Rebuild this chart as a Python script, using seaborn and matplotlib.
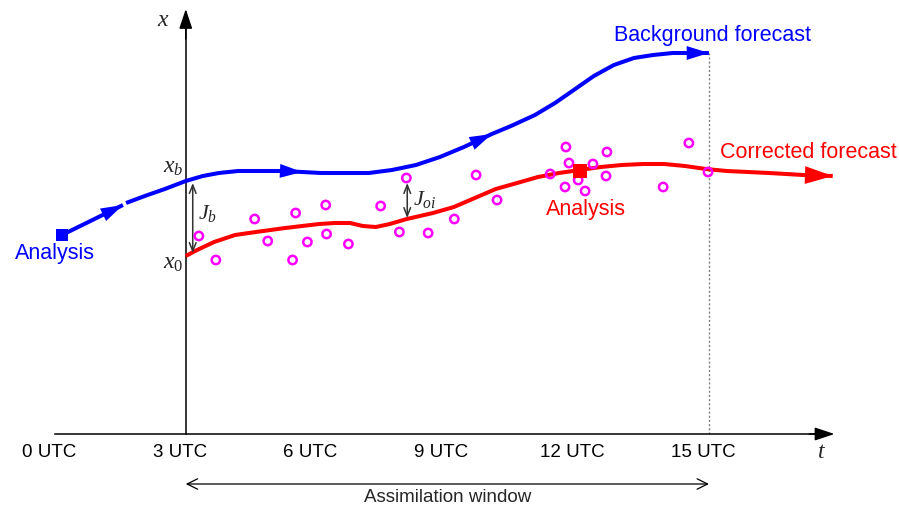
import numpy as np
import pandas as pd
import seaborn as sns
import matplotlib.pyplot as plt
import matplotlib.transforms as mtransforms

sns.set_style("white")
plt.rcParams["font.family"] = ["Liberation Sans", "DejaVu Sans"]
plt.rcParams["mathtext.fontset"] = "custom"
plt.rcParams["mathtext.it"] = "Liberation Serif:italic"
plt.rcParams["mathtext.rm"] = "Liberation Serif"

# ---- data (time in hours UTC, model state in arbitrary units) ----
# previous analysis and the first leg of the background run
prev_analysis_t = [0.16]
prev_analysis_v = [199]
bg_lead_t = [0.16, 1.56]
bg_lead_v = [199, 229]

# background forecast through the assimilation window
bg_t = [1.63, 2.06, 2.52, 3.00, 3.39, 3.76, 4.20, 4.66, 5.21, 5.67, 6.10, 6.65, 7.20, 7.73,
        8.28, 8.83, 9.38, 10.02, 10.46, 11.01, 11.47, 11.90, 12.36, 12.82, 13.28, 13.72,
        14.17, 15.00]
bg_v = [231, 238, 245, 253, 258, 261, 263, 263, 263, 262, 261, 261, 261, 264,
        269, 277, 287, 300, 308, 319, 331, 344, 358, 369, 376, 379,
        381, 381]

# corrected (analysed) trajectory and forecast
an_t = [3.00, 3.26, 3.65, 4.13, 4.61, 5.28, 6.06, 6.42, 6.77, 7.06, 7.36, 7.68, 8.07, 8.67,
        9.15, 9.63, 10.11, 10.60, 11.08, 11.56, 12.04, 12.52, 13.00, 13.49, 13.97, 14.45,
        14.93, 15.41, 16.38, 17.16, 17.84]
an_v = [178, 184, 192, 199, 202, 206, 210, 211, 211, 208, 207, 210, 215, 221,
        227, 236, 245, 251, 257, 261, 264, 267, 269, 270, 270, 268,
        265, 263, 261, 259, 258]

# new analysis at 12 UTC
new_analysis_t = [12.04]
new_analysis_v = [263]

# observations inside the window
obs_t = [3.30, 3.69, 4.58, 4.88, 5.45, 5.52, 5.79, 6.21, 6.23, 6.73, 7.47, 7.90, 8.06, 8.56,
         9.16, 9.66, 10.14, 11.36, 11.72, 11.79, 11.70, 12.00, 12.16, 12.34, 12.66, 12.64,
         13.95, 14.54, 14.98]
obs_v = [198, 174, 215, 193, 174, 221, 192, 229, 200, 190, 228, 202, 256, 201,
         215, 259, 234, 260, 287, 271, 247, 254, 243, 270, 282, 258,
         247, 291, 262]

tick_hours = [0, 3, 6, 9, 12, 15]
tick_labels = [f"{h} UTC" for h in tick_hours]
window_start, window_end = 3, 15

BLUE = "#0000ff"
RED = "#ff0000"
MAGENTA = "#ff00ff"

bg = pd.DataFrame({
    "t": bg_lead_t + bg_t,
    "v": bg_lead_v + bg_v,
    "leg": ["lead"] * len(bg_lead_t) + ["window"] * len(bg_t),
})
an = pd.DataFrame({"t": an_t, "v": an_v})

fig = plt.figure(figsize=(8.99, 5.07), dpi=100)
ax = fig.add_axes([0, 0, 1, 1])
ax.set_xlim(-1.261, 19.36)
ax.set_ylim(-73, 434)

# window end marker
ax.vlines(window_end, 0, bg_v[-1], colors="#808080", linestyles=(0, (1.5, 1.5)), lw=1.0, zorder=1)

sns.lineplot(data=bg, x="t", y="v", units="leg", estimator=None, sort=False,
             color=BLUE, lw=2.9, solid_capstyle="butt", solid_joinstyle="round",
             ax=ax, zorder=3)
sns.lineplot(data=an, x="t", y="v", estimator=None, sort=False,
             color=RED, lw=2.9, solid_capstyle="butt", solid_joinstyle="round",
             ax=ax, zorder=3)


def head(tail, tip, color, hl=0.8, hw=0.25):
    ax.annotate("", xy=tip, xytext=tail,
                arrowprops=dict(arrowstyle=f"-|>,head_length={hl},head_width={hw}",
                                color=color, lw=0, shrinkA=0, shrinkB=0,
                                mutation_scale=20), zorder=4)


head((bg_lead_t[0], bg_lead_v[0]), (bg_lead_t[1], bg_lead_v[1]), BLUE)
for i in (9, 17, len(bg_t) - 1):
    head((bg_t[i - 1], bg_v[i - 1]), (bg_t[i], bg_v[i]), BLUE)
head((an_t[-2], an_v[-2]), (an_t[-1], an_v[-1]), RED, hl=1.0, hw=0.32)

sns.scatterplot(x=obs_t, y=obs_v, marker="o", s=36, facecolor="none",
                edgecolor=MAGENTA, linewidth=1.8, ax=ax, zorder=5)
sns.scatterplot(x=prev_analysis_t, y=prev_analysis_v, marker="s", s=80,
                color=BLUE, linewidth=0, ax=ax, zorder=5)
sns.scatterplot(x=new_analysis_t, y=new_analysis_v, marker="s", s=90,
                color=RED, linewidth=0, ax=ax, zorder=5)

# axes: time axis at zero, state axis at the window start
for side in ("top", "right"):
    ax.spines[side].set_visible(False)
ax.spines["bottom"].set_position(("data", 0))
ax.spines["bottom"].set_bounds(0, 17.5)
ax.spines["left"].set_position(("data", window_start))
ax.spines["left"].set_bounds(0, 410)
for side in ("bottom", "left"):
    ax.spines[side].set_linewidth(1.1)
    ax.spines[side].set_color("black")

ax.annotate("", xy=(17.88, 0), xytext=(17.3, 0),
            arrowprops=dict(arrowstyle="-|>,head_length=0.6,head_width=0.2", color="black",
                            lw=1.1, shrinkA=0, shrinkB=0, mutation_scale=20))
ax.annotate("", xy=(window_start, 425), xytext=(window_start, 395),
            arrowprops=dict(arrowstyle="-|>,head_length=0.6,head_width=0.2", color="black",
                            lw=1.1, shrinkA=0, shrinkB=0, mutation_scale=20))

ax.set_xticks(tick_hours)
ax.set_xticklabels(tick_labels)
ax.set_yticks([])
ax.tick_params(axis="x", direction="in", length=8, width=1.1, pad=7, labelsize=13.5,
               colors="black")
ax.xaxis.get_major_ticks()[-1].tick1line.set_visible(False)
shift = mtransforms.ScaledTranslation(-0.06, 0, fig.dpi_scale_trans)
for lbl in ax.get_xticklabels():
    lbl.set_transform(lbl.get_transform() + shift)
ax.set_xlabel("")
ax.set_ylabel("")

# cost-function distances
gap = dict(arrowstyle="<->,head_length=0.5,head_width=0.2", color="#333333",
           lw=1.1, shrinkA=0, shrinkB=0, mutation_scale=12)
ax.annotate("", xy=(3.16, 251), xytext=(3.16, 181), arrowprops=gap)
ax.annotate("", xy=(8.08, 251), xytext=(8.08, 216), arrowprops=gap)

# assimilation window span
ax.annotate("", xy=(window_start, -50), xytext=(window_end, -50),
            arrowprops=dict(arrowstyle="<->,head_length=0.5,head_width=0.25", color="black",
                            lw=0.9, shrinkA=0, shrinkB=0, mutation_scale=15))
ax.text((window_start + window_end) / 2, -64, "Assimilation window", ha="center",
        va="center", fontsize=13.5)

# labels
ax.text(0.0, 181, "Analysis", color=BLUE, ha="center", va="center", fontsize=15.5)
ax.text(12.82, 398, "Background forecast", color=BLUE, ha="left", va="center", fontsize=15.5)
ax.text(15.25, 281, "Corrected forecast", color=RED, ha="left", va="center", fontsize=15.5)
ax.text(12.18, 224, "Analysis", color=RED, ha="center", va="center", fontsize=15.5)

ax.text(2.48, 414, r"$x$", ha="center", va="center", fontsize=17)
ax.text(17.59, -18, r"$t$", ha="center", va="center", fontsize=17)
ax.text(2.94, 267, r"$x_b$", ha="right", va="center", fontsize=17)
ax.text(2.94, 171, r"$x_{\mathit{0}}$", ha="right", va="center", fontsize=17)
ax.text(3.28, 221, r"$J_b$", ha="left", va="center", fontsize=16)
ax.text(8.21, 234, r"$J_{oi}$", ha="left", va="center", fontsize=16)

fig.savefig("out.png", dpi=100)
